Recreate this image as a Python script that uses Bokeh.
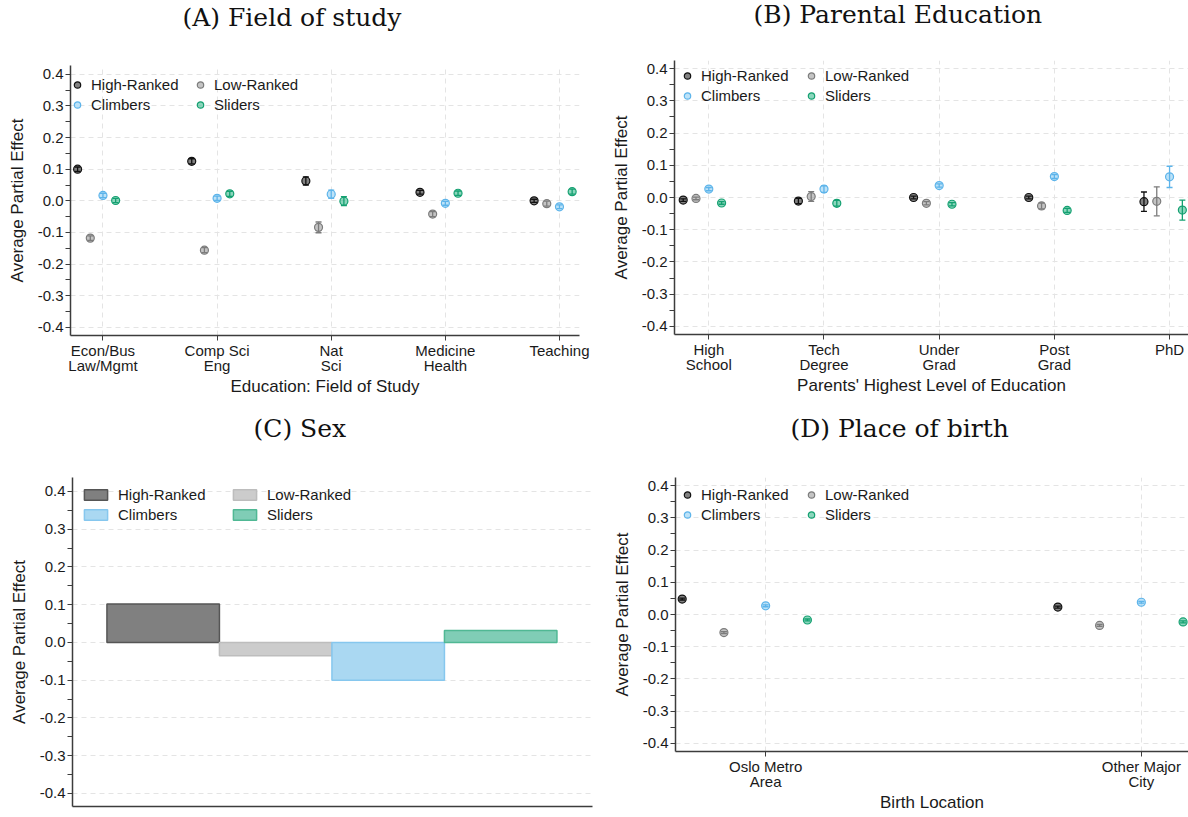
from bokeh.plotting import figure
from bokeh.models import (ColumnDataSource, FixedTicker, Whisker, TeeHead, Legend,
                          LegendItem, Range1d, PrintfTickFormatter)
from bokeh.core.properties import value
from bokeh.layouts import column, row
from bokeh.embed import file_html
from bokeh.resources import INLINE

# ---------------------------------------------------------------- data
groups = ["High-Ranked", "Low-Ranked", "Climbers", "Sliders"]

# (A) field of study
field_labels = ["Econ/Bus\nLaw/Mgmt", "Comp Sci\nEng", "Nat\nSci", "Medicine\nHealth", "Teaching"]
field_high = [0.100, 0.125, 0.063, 0.027, 0.000]
field_low = [-0.118, -0.156, -0.084, -0.042, -0.009]
field_climb = [0.017, 0.008, 0.021, -0.008, -0.019]
field_slide = [0.001, 0.022, -0.001, 0.024, 0.029]
field_high_ci = [0.007, 0.008, 0.013, 0.006, 0.005]
field_low_ci = [0.007, 0.008, 0.017, 0.008, 0.008]
field_climb_ci = [0.007, 0.007, 0.013, 0.006, 0.006]
field_slide_ci = [0.007, 0.008, 0.014, 0.007, 0.008]

# (B) parental education
parent_labels = ["High\nSchool", "Tech\nDegree", "Under\nGrad", "Post\nGrad", "PhD"]
parent_high = [-0.008, -0.011, 0.000, 0.000, -0.013]
parent_low = [-0.003, 0.003, -0.018, -0.026, -0.012]
parent_climb = [0.026, 0.026, 0.037, 0.065, 0.064]
parent_slide = [-0.017, -0.018, -0.021, -0.040, -0.039]
parent_high_ci = [0.004, 0.008, 0.004, 0.004, 0.030]
parent_low_ci = [0.004, 0.015, 0.005, 0.009, 0.045]
parent_climb_ci = [0.005, 0.010, 0.005, 0.006, 0.033]
parent_slide_ci = [0.004, 0.009, 0.005, 0.006, 0.031]

# (C) sex
sex_effect = [0.102, -0.035, -0.100, 0.032]

# (D) place of birth
birth_labels = ["Oslo Metro\nArea", "Other Major\nCity"]
birth_high = [0.048, 0.023]
birth_low = [-0.056, -0.034]
birth_climb = [0.027, 0.038]
birth_slide = [-0.017, -0.023]
birth_ci = [0.003, 0.003]

y_ticks = [-0.4, -0.3, -0.2, -0.1, 0.0, 0.1, 0.2, 0.3, 0.4]
y_minor = [-0.35, -0.25, -0.15, -0.05, 0.05, 0.15, 0.25, 0.35]

# ---------------------------------------------------------------- style
SANS = "Liberation Sans"
SERIF = "DejaVu Serif"
AXIS_COLOR = "#3c3c3c"
GRID_COLOR = "#e4e4e4"
marker_fill = ["#2e2e2e", "#9c9c9c", "#8fcef3", "#3dbb8f"]
marker_line = ["#111111", "#7c7c7c", "#5db4ea", "#14a071"]
bar_fill = ["#808080", "#cccccc", "#aad8f2", "#80cdb6"]
bar_line = ["#555555", "#bdbdbd", "#86c7ee", "#50b894"]
group_offset = [-2, -1, 0, 1]
cat_step = 9
STRIP_H = 38


def title_strip(text, width, borders, left_x, cy):
    """A thin axis-less figure carrying a panel heading; its frame spans the
    same columns as the panel below, with one x unit per pixel."""
    left, right = borders[0], borders[1]
    s = figure(width=width, height=STRIP_H, x_range=Range1d(left, width - right),
               y_range=Range1d(0, STRIP_H), output_backend="svg", toolbar_location=None,
               x_axis_location=None, y_axis_location=None,
               min_border_left=left, min_border_right=right,
               min_border_top=0, min_border_bottom=0)
    s.outline_line_color = None
    s.xgrid.visible = False
    s.ygrid.visible = False
    s.text(x=[left_x], y=[STRIP_H - cy], text=[text], text_font=value(SERIF),
           text_font_size="25px", text_color="#111111", text_align="left",
           text_baseline="middle")
    return s


def base_figure(x_range, y_range, width, height, borders):
    left, right, top, bottom = borders
    p = figure(width=width, height=height, x_range=Range1d(*x_range),
               y_range=Range1d(*y_range), output_backend="svg", toolbar_location=None,
               min_border_left=left, min_border_right=right,
               min_border_top=top, min_border_bottom=bottom)
    p.outline_line_color = None
    p.background_fill_color = "white"

    for ax in (p.xaxis[0], p.yaxis[0]):
        ax.axis_line_color = AXIS_COLOR
        ax.axis_line_width = 1.5
        ax.major_tick_line_color = AXIS_COLOR
        ax.minor_tick_line_color = AXIS_COLOR
        ax.major_tick_in = 0
        ax.minor_tick_in = 0
        ax.major_label_text_font = SANS
        ax.major_label_text_font_size = "15px"
        ax.major_label_text_color = "#1a1a1a"
        ax.major_label_text_line_height = 0.9
        ax.axis_label_text_font = SANS
        ax.axis_label_text_font_size = "17px"
        ax.axis_label_text_font_style = "normal"
        ax.axis_label_text_color = "#1a1a1a"

    ya = p.yaxis[0]
    ya.ticker = FixedTicker(ticks=y_ticks, minor_ticks=y_minor)
    ya.formatter = PrintfTickFormatter(format="%.1f")
    ya.axis_label = "Average Partial Effect"
    ya.major_tick_out = 5
    ya.minor_tick_out = 5
    ya.major_label_standoff = 2
    ya.axis_label_standoff = 8

    p.ygrid.grid_line_color = GRID_COLOR
    p.ygrid.grid_line_dash = "5 4"
    p.ygrid.grid_line_width = 1
    return p


def add_legend(p, renderers, col_x, top_off, frame_h, glyph_w, glyph_h, standoff):
    item_h = 17
    spacing = 3
    leg_h = 2 * item_h + spacing
    for c in range(2):
        items = [LegendItem(label=groups[c], renderers=[renderers[c]]),
                 LegendItem(label=groups[c + 2], renderers=[renderers[c + 2]])]
        leg = Legend(items=items, location=(col_x[c], frame_h - top_off - leg_h),
                     orientation="vertical", margin=0, padding=0, spacing=spacing,
                     glyph_width=glyph_w, glyph_height=glyph_h, label_height=item_h,
                     label_standoff=standoff, label_text_font=SANS,
                     label_text_font_size="15px", label_text_color="#1a1a1a",
                     background_fill_alpha=0, border_line_color=None)
        p.add_layout(leg)


def point_panel(cat_labels, series, cis, xlabel, x_range, y_range,
                width, height, borders, col_x, top_off):
    p = base_figure(x_range, y_range, width, height, borders)
    n = len(cat_labels)
    centers = [i * cat_step for i in range(n)]
    xa = p.xaxis[0]
    xa.ticker = FixedTicker(ticks=centers, minor_ticks=[])
    xa.major_label_overrides = {c: lab for c, lab in zip(centers, cat_labels)}
    xa.axis_label = xlabel
    xa.major_tick_out = 5
    xa.major_label_standoff = 1
    xa.axis_label_standoff = 0
    p.xgrid.grid_line_color = GRID_COLOR
    p.xgrid.grid_line_dash = "5 4"
    p.xgrid.grid_line_width = 1

    renderers = []
    for g in range(4):
        xs = [c + group_offset[g] for c in centers]
        ys = series[g]
        src = ColumnDataSource(dict(
            x=xs, y=ys,
            lo=[v - e for v, e in zip(ys, cis[g])],
            hi=[v + e for v, e in zip(ys, cis[g])]))
        r = p.scatter("x", "y", source=src, size=8, fill_color=marker_fill[g],
                      fill_alpha=0.6, line_color=marker_line[g], line_width=1.2)
        w = Whisker(base="x", upper="hi", lower="lo", source=src, level="glyph",
                    line_color=marker_line[g], line_width=1.3,
                    upper_head=TeeHead(size=6, line_color=marker_line[g], line_width=1.3),
                    lower_head=TeeHead(size=6, line_color=marker_line[g], line_width=1.3))
        p.add_layout(w)
        renderers.append(r)

    frame_h = height - borders[2] - borders[3]
    add_legend(p, renderers, col_x, top_off, frame_h, 16, 17, 6)
    return p


# (A)  frame 70..579 x 65..335
bA = (70, 15, 65 - STRIP_H, 70)
sA = title_strip("(A) Field of study", 594, bA, 182, 17)
pA = point_panel(field_labels,
                 [field_high, field_low, field_climb, field_slide],
                 [field_high_ci, field_low_ci, field_climb_ci, field_slide_ci],
                 "Education: Field of Study", (-2.56, 37.58), (-0.426, 0.428),
                 594, 405 - STRIP_H, bA, (-1, 122), 11)

# (B)  frame 674..1188 x 60..334
bB = (80, 0, 60 - STRIP_H, 71)
sB = title_strip("(B) Parental Education", 594, bB, 159, 14)
pB = point_panel(parent_labels,
                 [parent_high, parent_low, parent_climb, parent_slide],
                 [parent_high_ci, parent_low_ci, parent_climb_ci, parent_slide_ci],
                 "Parents' Highest Level of Education", (-2.68, 37.48), (-0.425, 0.425),
                 594, 405 - STRIP_H, bB, (5, 129), 7)

# (C)  frame 72..592 x 477..806
bC = (72, 2, 72 - STRIP_H, 11)
sC = title_strip("(C) Sex", 594, bC, 253, 23)
pC = base_figure((0.194, 4.816), (-0.4345, 0.437), 594, 412 - STRIP_H, bC)
pC.xaxis[0].ticker = FixedTicker(ticks=[], minor_ticks=[])
pC.xgrid.grid_line_color = None
bar_renderers = []
for g in range(4):
    src = ColumnDataSource(dict(x=[g + 1], top=[sex_effect[g]]))
    r = pC.vbar(x="x", top="top", bottom=0, width=1, source=src,
                fill_color=bar_fill[g], line_color=bar_line[g], line_width=1.5)
    bar_renderers.append(r)
add_legend(pC, bar_renderers, (9, 158), 9, 412 - 72 - 11, 29, 13, 8)

# (D)  frame 675..1188 x 477..751
bD = (81, 0, 72 - STRIP_H, 66)
sD = title_strip("(D) Place of birth", 594, bD, 196, 23)
pD = point_panel(birth_labels,
                 [birth_high, birth_low, birth_climb, birth_slide],
                 [birth_ci, birth_ci, birth_ci, birth_ci],
                 "Birth Location", (-2.16, 10.13), (-0.425, 0.425),
                 594, 412 - STRIP_H, bD, (4, 128), 9)

layout = column(row(column(sA, pA), column(sB, pB)),
                row(column(sC, pC), column(sD, pD)))
open("out.html", "w").write(file_html(layout, INLINE))
